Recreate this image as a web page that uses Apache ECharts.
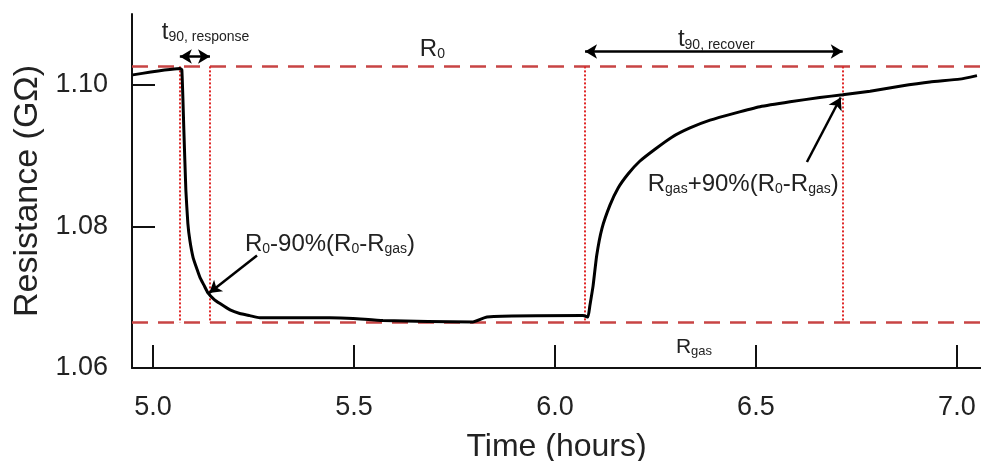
<!DOCTYPE html>
<html>
<head>
<meta charset="utf-8">
<script src="https://cdn.jsdelivr.net/npm/echarts@6/dist/echarts.min.js"></script>
<style>
  html, body { margin: 0; padding: 0; background: #fff; }
  #app { width: 981px; height: 461px; }
</style>
</head>
<body>
<div id="app"></div>
<script>
// curve
const timeH = [4.950, 5.067, 5.072, 5.077, 5.082, 5.087, 5.092, 5.100, 5.110, 5.117, 5.127, 5.137, 5.152, 5.167,
  5.192, 5.216, 5.241, 5.266, 5.440, 5.498, 5.572, 5.796, 5.831, 6.070, 6.082, 6.087, 6.095, 6.104, 6.117, 6.137,
  6.157, 6.182, 6.211, 6.249, 6.291, 6.336, 6.386, 6.448, 6.510, 6.585, 6.659, 6.716, 6.784, 6.858, 6.933, 7.007, 7.050];
const resistance = [1.1014, 1.1023, 1.1021, 1.0936, 1.0851, 1.0804, 1.0780, 1.0756, 1.0739, 1.0728, 1.0717, 1.0706, 1.0697, 1.0691,
  1.0682, 1.0677, 1.0674, 1.0671, 1.0671, 1.0670, 1.0667, 1.0665, 1.0672, 1.0674, 1.0672, 1.0688, 1.0716, 1.0759, 1.0797, 1.0830,
  1.0854, 1.0874, 1.0892, 1.0909, 1.0926, 1.0939, 1.0950, 1.0960, 1.0969, 1.0976, 1.0982, 1.0986, 1.0991, 1.0998, 1.1004, 1.1008, 1.1013];

// reference levels and t90 markers
const R0 = 1.1026;
const Rgas = 1.0664;
const t90Marks = [5.067, 5.142, 6.075, 6.716];

const xTicks = [5.0, 5.5, 6.0, 6.5, 7.0];
const yTicks = [1.06, 1.08, 1.10];

const FONT = 'Liberation Sans, Arial, sans-serif';

let chart = echarts.init(document.getElementById('app'), null, { renderer: 'canvas' });

let rich = {
  m: { fontSize: 24, lineHeight: 30, color: '#222', fontFamily: FONT, verticalAlign: 'bottom' },
  s: { fontSize: 14, lineHeight: 14, color: '#222', fontFamily: FONT, verticalAlign: 'bottom' },
  t: { fontSize: 24, lineHeight: 30, color: '#222', fontFamily: FONT, verticalAlign: 'bottom' },
  ts: { fontSize: 14, lineHeight: 11, color: '#222', fontFamily: FONT, verticalAlign: 'bottom' },
  g: { fontSize: 21, lineHeight: 26, color: '#222', fontFamily: FONT, verticalAlign: 'bottom' },
  gs: { fontSize: 13, lineHeight: 12, color: '#222', fontFamily: FONT, verticalAlign: 'bottom' }
};

function textPt(x, y, fmt) {
  return {
    coord: [x, y],
    symbol: 'rect',
    symbolSize: 0,
    label: {
      show: true,
      position: [0, 0],
      align: 'left',
      verticalAlign: 'middle',
      formatter: fmt,
      rich: rich
    }
  };
}

let vLines = t90Marks.map(function (t) {
  return [{ coord: [t, R0] }, { coord: [t, Rgas] }];
});

let option = {
  backgroundColor: '#fff',
  animation: false,
  grid: { left: 132, right: 0, top: 14, bottom: 93, outerBoundsMode: 'none' },
  xAxis: {
    type: 'value',
    min: 4.948,
    max: 7.06,
    name: 'Time (hours)',
    nameLocation: 'middle',
    nameGap: 63,
    nameTextStyle: { fontSize: 32, color: '#222', fontFamily: FONT },
    axisLine: { show: true, lineStyle: { color: '#111', width: 2 } },
    axisTick: { show: true, inside: true, length: 23, customValues: xTicks, lineStyle: { color: '#111', width: 2 } },
    axisLabel: {
      customValues: xTicks, margin: 26, fontSize: 27, color: '#222', fontFamily: FONT,
      formatter: function (v) { return v.toFixed(1); }
    },
    splitLine: { show: false }
  },
  yAxis: {
    type: 'value',
    min: 1.06,
    max: 1.11,
    name: 'Resistance (GΩ)',
    nameLocation: 'middle',
    nameGap: 85,
    nameTextStyle: { fontSize: 34, color: '#222', fontFamily: FONT },
    axisLine: { show: true, lineStyle: { color: '#111', width: 2 } },
    axisTick: { show: true, inside: true, length: 23, customValues: yTicks, lineStyle: { color: '#111', width: 2 } },
    axisLabel: {
      customValues: yTicks, margin: 24, fontSize: 27, color: '#222', fontFamily: FONT,
      formatter: function (v) { return v.toFixed(2); }
    },
    splitLine: { show: false }
  },
  series: [
    {
      name: 'resistance',
      type: 'line',
      data: timeH.map(function (t, i) { return [t, resistance[i]]; }),
      showSymbol: false,
      smooth: 0.15,
      lineStyle: { color: '#000', width: 3 },
      z: 5
    },
    {
      name: 'levels',
      type: 'line',
      data: [],
      markLine: {
        silent: true,
        precision: 4,
        symbol: 'none',
        label: { show: false },
        lineStyle: { color: '#c84444', width: 2.5, type: [16, 10] },
        data: [{ yAxis: R0 }, { yAxis: Rgas }]
      }
    },
    {
      name: 't90',
      type: 'line',
      data: [],
      markLine: {
        silent: true,
        precision: 4,
        symbol: 'none',
        label: { show: false },
        lineStyle: { color: '#e02828', width: 2, type: [2, 2] },
        data: vLines
      }
    },
    {
      name: 'arrows',
      type: 'line',
      data: [],
      markLine: {
        silent: true,
        precision: 4,
        symbolSize: [11, 12],
        label: { show: false },
        lineStyle: { color: '#000', width: 2.5, type: 'solid' },
        data: [
          [{ coord: [5.067, 1.1040], symbol: 'arrow' }, { coord: [5.142, 1.1040], symbol: 'arrow' }],
          [{ coord: [6.075, 1.1047], symbol: 'arrow' }, { coord: [6.716, 1.1047], symbol: 'arrow' }],
          [{ coord: [5.259, 1.0759], symbol: 'none' }, { coord: [5.140, 1.0706], symbol: 'arrow' }],
          [{ coord: [6.627, 1.0891], symbol: 'none' }, { coord: [6.711, 1.0982], symbol: 'arrow' }]
        ]
      }
    },
    {
      name: 'notes',
      type: 'line',
      data: [],
      markPoint: {
        silent: true,
        data: [
          textPt(5.022, 1.1078, '{t|t}{ts|90, response}'),
          textPt(6.306, 1.1068, '{t|t}{ts|90, recover}'),
          textPt(5.664, 1.1054, '{m|R}{s|0}'),
          textPt(5.229, 1.0779, '{m|R}{s|0}{m|-90%(R}{s|0}{m|-R}{s|gas}{m|)}'),
          textPt(6.231, 1.0864, '{m|R}{s|gas}{m|+90%(R}{s|0}{m|-R}{s|gas}{m|)}'),
          textPt(6.301, 1.0633, '{g|R}{gs|gas}')
        ]
      }
    }
  ]
};

chart.setOption(option);
</script>
</body>
</html>
